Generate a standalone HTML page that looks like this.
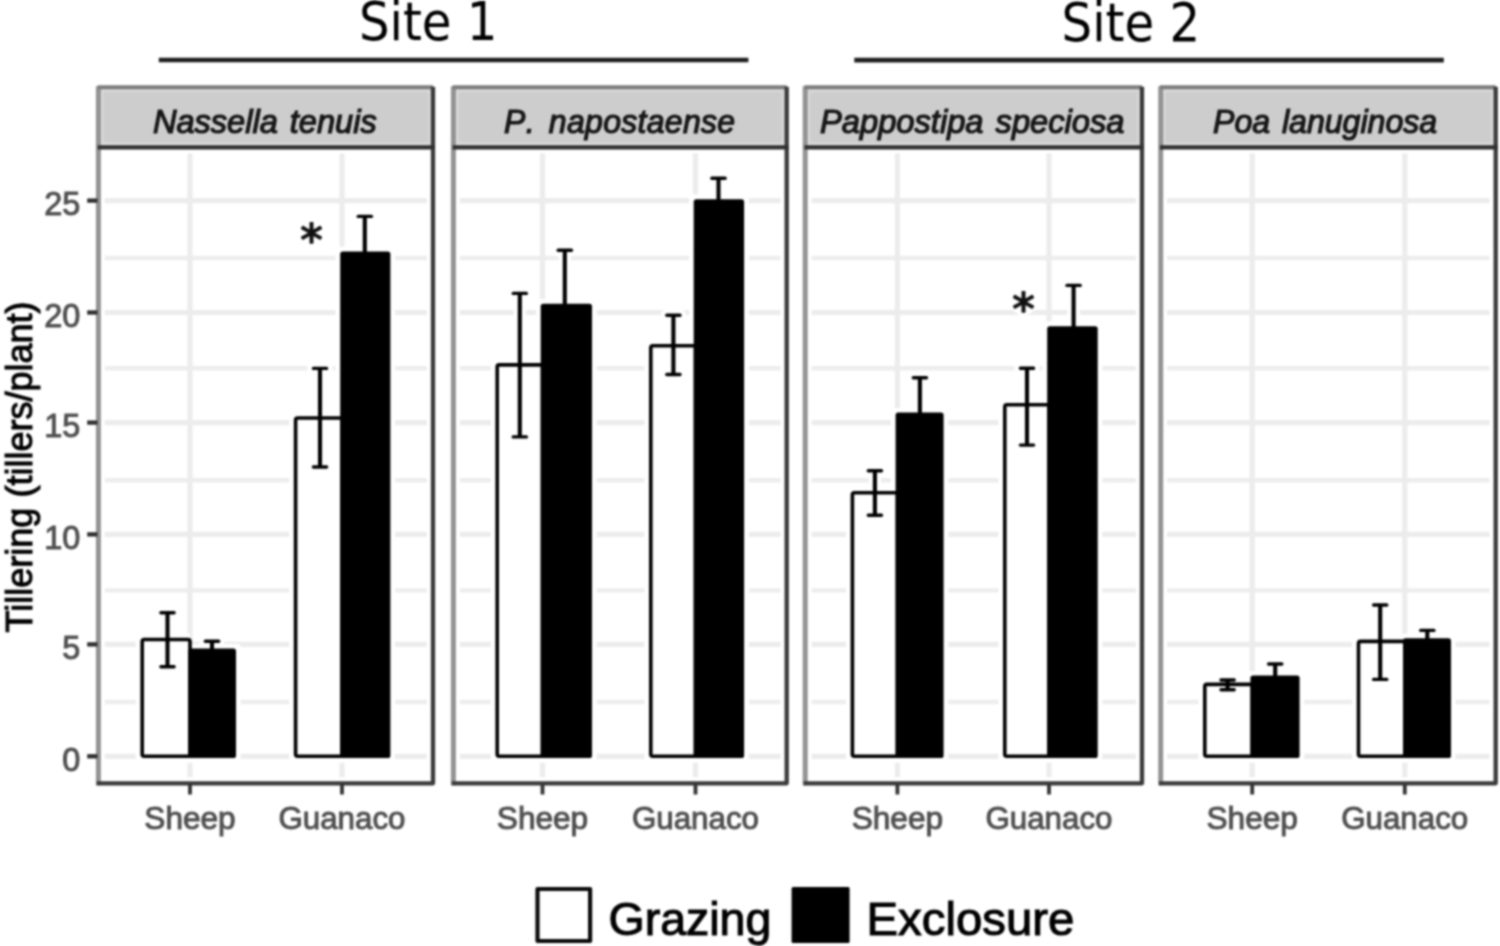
<!DOCTYPE html>
<html lang="en"><head><meta charset="utf-8"><title>Tillering by site</title>
<style>html,body{margin:0;padding:0;background:#fff}body{width:1500px;height:946px;overflow:hidden}svg{display:block}text{font-family:"Liberation Sans",sans-serif}.ax{fill:#4e4e4e;font-size:31px;stroke:#545454;stroke-width:1.0px}.st{fill:#1a1a1a;font-size:33px;font-style:italic;stroke:#111;stroke-width:1.2px;font-kerning:none}.lg{fill:#000;font-size:46.5px;stroke:#000;stroke-width:1.1px}.site{fill:#000;font-size:53.6px;font-family:"DejaVu Sans Condensed","DejaVu Sans","Liberation Sans",sans-serif;font-stretch:condensed}.star{font-family:"DejaVu Sans",sans-serif;font-size:45px;fill:#111;stroke:#111;stroke-width:1.5px;stroke-linejoin:round}</style></head><body>
<svg width="1500" height="946" viewBox="0 0 1500 946">
<defs><filter id="soft" x="0" y="0" width="1500" height="946" filterUnits="userSpaceOnUse" color-interpolation-filters="sRGB"><feConvolveMatrix order="5" kernelMatrix="1 4 7 4 1 4 16 26 16 4 7 26 41 26 7 4 16 26 16 4 1 4 7 4 1" divisor="273" edgeMode="duplicate" preserveAlpha="true"/></filter></defs>
<g filter="url(#soft)">
<rect x="-5" y="-5" width="1510" height="956" fill="#fff"/>
<text class="site" x="358.9" y="39.6">Site 1</text>
<text class="site" x="1061.6" y="40.6">Site 2</text>
<line x1="158.8" y1="60" x2="748.4" y2="60" stroke="#1e1e1e" stroke-width="4.6"/>
<line x1="854.3" y1="60.1" x2="1443.8" y2="60.1" stroke="#1e1e1e" stroke-width="4.6"/>
<rect x="98.7" y="147.3" width="334.3" height="636.0" fill="#fff"/>
<line x1="98.7" y1="258.0" x2="433.0" y2="258.0" stroke="#ededed" stroke-width="4.4"/>
<line x1="98.7" y1="368.3" x2="433.0" y2="368.3" stroke="#ededed" stroke-width="4.4"/>
<line x1="98.7" y1="480.3" x2="433.0" y2="480.3" stroke="#ededed" stroke-width="4.4"/>
<line x1="98.7" y1="590.4" x2="433.0" y2="590.4" stroke="#ededed" stroke-width="4.4"/>
<line x1="98.7" y1="702.0" x2="433.0" y2="702.0" stroke="#ededed" stroke-width="4.4"/>
<line x1="98.7" y1="200.6" x2="433.0" y2="200.6" stroke="#ececec" stroke-width="5.2"/>
<line x1="98.7" y1="312.5" x2="433.0" y2="312.5" stroke="#ececec" stroke-width="5.2"/>
<line x1="98.7" y1="422.6" x2="433.0" y2="422.6" stroke="#ececec" stroke-width="5.2"/>
<line x1="98.7" y1="534.4" x2="433.0" y2="534.4" stroke="#ececec" stroke-width="5.2"/>
<line x1="98.7" y1="644.4" x2="433.0" y2="644.4" stroke="#ececec" stroke-width="5.2"/>
<line x1="98.7" y1="756.3" x2="433.0" y2="756.3" stroke="#ececec" stroke-width="5.2"/>
<line x1="190.0" y1="147.3" x2="190.0" y2="783.3" stroke="#ececec" stroke-width="5.2"/>
<line x1="342.0" y1="147.3" x2="342.0" y2="783.3" stroke="#ececec" stroke-width="5.2"/>
<rect x="98.7" y="147.3" width="334.3" height="636.0" fill="none" stroke="#fff" stroke-width="12.2"/>
<rect x="135.8" y="633.1" width="54.2" height="129.6" fill="#fff" rx="3"/>
<rect x="183.6" y="643.9" width="57.0" height="118.8" fill="#fff" rx="3"/>
<path d="M160.9 612.8H174.1M160.9 666.8H174.1M167.5 612.8V666.8" stroke="#fff" stroke-width="12.3" fill="none" stroke-linecap="round"/>
<path d="M205.4 641.2H218.6M212.0 641.2V651.5" stroke="#fff" stroke-width="12.3" fill="none" stroke-linecap="round"/>
<rect x="289.2" y="411.6" width="52.8" height="351.1" fill="#fff" rx="3"/>
<rect x="335.6" y="246.8" width="59.4" height="515.9" fill="#fff" rx="3"/>
<path d="M313.4 368.4H326.6M313.4 467.0H326.6M320.0 368.4V467.0" stroke="#fff" stroke-width="12.3" fill="none" stroke-linecap="round"/>
<path d="M358.2 216.4H371.40000000000003M364.8 216.4V254.4" stroke="#fff" stroke-width="12.3" fill="none" stroke-linecap="round"/>
<rect x="142.2" y="639.5" width="47.8" height="116.8" fill="#fff" stroke="#000" stroke-width="3.6" stroke-linejoin="round" rx="2"/>
<rect x="188.2" y="648.5" width="47.8" height="109.6" fill="#000" rx="2.6"/>
<path d="M160.9 612.8H174.1M160.9 666.8H174.1" stroke="#000" stroke-width="3.4" fill="none" stroke-linecap="round"/>
<path d="M167.5 612.8V666.8" stroke="#000" stroke-width="4.1" fill="none"/>
<path d="M205.4 641.2H218.6" stroke="#000" stroke-width="3.4" fill="none" stroke-linecap="round"/>
<path d="M212.0 641.2V651.5" stroke="#000" stroke-width="4.1" fill="none"/>
<rect x="295.6" y="418.0" width="46.4" height="338.3" fill="#fff" stroke="#000" stroke-width="3.6" stroke-linejoin="round" rx="2"/>
<rect x="340.2" y="251.4" width="50.2" height="506.7" fill="#000" rx="2.6"/>
<path d="M313.4 368.4H326.6M313.4 467.0H326.6" stroke="#000" stroke-width="3.4" fill="none" stroke-linecap="round"/>
<path d="M320.0 368.4V467.0" stroke="#000" stroke-width="4.1" fill="none"/>
<path d="M358.2 216.4H371.40000000000003" stroke="#000" stroke-width="3.4" fill="none" stroke-linecap="round"/>
<path d="M364.8 216.4V254.4" stroke="#000" stroke-width="4.1" fill="none"/>
<rect x="98.7" y="87.3" width="334.3" height="60.0" fill="#cdcdcd"/>
<rect x="102.10000000000001" y="90.7" width="327.5" height="53.2" fill="none" stroke="#dbdbdb" stroke-width="2.2"/>
<line x1="98.4" y1="86.3" x2="98.4" y2="785.3" stroke="#939393" stroke-width="5"/>
<line x1="97.7" y1="87.3" x2="433.0" y2="87.3" stroke="#7c7c7c" stroke-width="4"/>
<path d="M433.0 86.8V783.3H96.7" fill="none" stroke="#3a3a3a" stroke-width="4.3" stroke-linejoin="round"/>
<line x1="97.7" y1="147.3" x2="435.0" y2="147.3" stroke="#303030" stroke-width="4.2"/>
<text class="st" style="word-spacing:3px" x="152.9" y="132.8" textLength="223.8" lengthAdjust="spacingAndGlyphs">Nassella tenuis</text>
<line x1="190.0" y1="784.3" x2="190.0" y2="794.5" stroke="#333" stroke-width="3.8"/>
<text class="ax" x="144.3" y="828.6" textLength="91.4" lengthAdjust="spacingAndGlyphs">Sheep</text>
<line x1="342.0" y1="784.3" x2="342.0" y2="794.5" stroke="#333" stroke-width="3.8"/>
<text class="ax" x="278.4" y="828.6" textLength="127.1" lengthAdjust="spacingAndGlyphs">Guanaco</text>
<rect x="453.7" y="147.3" width="333.0" height="636.0" fill="#fff"/>
<line x1="453.7" y1="258.0" x2="786.7" y2="258.0" stroke="#ededed" stroke-width="4.4"/>
<line x1="453.7" y1="368.3" x2="786.7" y2="368.3" stroke="#ededed" stroke-width="4.4"/>
<line x1="453.7" y1="480.3" x2="786.7" y2="480.3" stroke="#ededed" stroke-width="4.4"/>
<line x1="453.7" y1="590.4" x2="786.7" y2="590.4" stroke="#ededed" stroke-width="4.4"/>
<line x1="453.7" y1="702.0" x2="786.7" y2="702.0" stroke="#ededed" stroke-width="4.4"/>
<line x1="453.7" y1="200.6" x2="786.7" y2="200.6" stroke="#ececec" stroke-width="5.2"/>
<line x1="453.7" y1="312.5" x2="786.7" y2="312.5" stroke="#ececec" stroke-width="5.2"/>
<line x1="453.7" y1="422.6" x2="786.7" y2="422.6" stroke="#ececec" stroke-width="5.2"/>
<line x1="453.7" y1="534.4" x2="786.7" y2="534.4" stroke="#ececec" stroke-width="5.2"/>
<line x1="453.7" y1="644.4" x2="786.7" y2="644.4" stroke="#ececec" stroke-width="5.2"/>
<line x1="453.7" y1="756.3" x2="786.7" y2="756.3" stroke="#ececec" stroke-width="5.2"/>
<line x1="542.5" y1="147.3" x2="542.5" y2="783.3" stroke="#ececec" stroke-width="5.2"/>
<line x1="695.5" y1="147.3" x2="695.5" y2="783.3" stroke="#ececec" stroke-width="5.2"/>
<rect x="453.7" y="147.3" width="333.0" height="636.0" fill="none" stroke="#fff" stroke-width="12.2"/>
<rect x="490.8" y="358.5" width="51.7" height="404.2" fill="#fff" rx="3"/>
<rect x="536.1" y="299.1" width="60.5" height="463.6" fill="#fff" rx="3"/>
<path d="M513.1999999999999 293.4H526.4M513.1999999999999 436.9H526.4M519.8 293.4V436.9" stroke="#fff" stroke-width="12.3" fill="none" stroke-linecap="round"/>
<path d="M558.1999999999999 250.3H571.4M564.8 250.3V306.7" stroke="#fff" stroke-width="12.3" fill="none" stroke-linecap="round"/>
<rect x="644.4" y="339.3" width="51.1" height="423.4" fill="#fff" rx="3"/>
<rect x="689.1" y="194.6" width="59.6" height="568.1" fill="#fff" rx="3"/>
<path d="M666.8 315.3H680.0M666.8 374.5H680.0M673.4 315.3V374.5" stroke="#fff" stroke-width="12.3" fill="none" stroke-linecap="round"/>
<path d="M711.9 178.2H725.1M718.5 178.2V202.2" stroke="#fff" stroke-width="12.3" fill="none" stroke-linecap="round"/>
<rect x="497.2" y="364.9" width="45.3" height="391.4" fill="#fff" stroke="#000" stroke-width="3.6" stroke-linejoin="round" rx="2"/>
<rect x="540.7" y="303.7" width="51.3" height="454.4" fill="#000" rx="2.6"/>
<path d="M513.1999999999999 293.4H526.4M513.1999999999999 436.9H526.4" stroke="#000" stroke-width="3.4" fill="none" stroke-linecap="round"/>
<path d="M519.8 293.4V436.9" stroke="#000" stroke-width="4.1" fill="none"/>
<path d="M558.1999999999999 250.3H571.4" stroke="#000" stroke-width="3.4" fill="none" stroke-linecap="round"/>
<path d="M564.8 250.3V306.7" stroke="#000" stroke-width="4.1" fill="none"/>
<rect x="650.8" y="345.7" width="44.7" height="410.6" fill="#fff" stroke="#000" stroke-width="3.6" stroke-linejoin="round" rx="2"/>
<rect x="693.7" y="199.2" width="50.4" height="558.9" fill="#000" rx="2.6"/>
<path d="M666.8 315.3H680.0M666.8 374.5H680.0" stroke="#000" stroke-width="3.4" fill="none" stroke-linecap="round"/>
<path d="M673.4 315.3V374.5" stroke="#000" stroke-width="4.1" fill="none"/>
<path d="M711.9 178.2H725.1" stroke="#000" stroke-width="3.4" fill="none" stroke-linecap="round"/>
<path d="M718.5 178.2V202.2" stroke="#000" stroke-width="4.1" fill="none"/>
<rect x="453.7" y="87.3" width="333.0" height="60.0" fill="#cdcdcd"/>
<rect x="457.09999999999997" y="90.7" width="326.2" height="53.2" fill="none" stroke="#dbdbdb" stroke-width="2.2"/>
<line x1="453.4" y1="86.3" x2="453.4" y2="785.3" stroke="#939393" stroke-width="5"/>
<line x1="452.7" y1="87.3" x2="786.7" y2="87.3" stroke="#7c7c7c" stroke-width="4"/>
<path d="M786.7 86.8V783.3H451.7" fill="none" stroke="#3a3a3a" stroke-width="4.3" stroke-linejoin="round"/>
<line x1="452.7" y1="147.3" x2="788.7" y2="147.3" stroke="#303030" stroke-width="4.2"/>
<text class="st" style="word-spacing:5px;letter-spacing:0.3px" x="504.0" y="132.8" textLength="231.4" lengthAdjust="spacingAndGlyphs">P. napostaense</text>
<line x1="542.5" y1="784.3" x2="542.5" y2="794.5" stroke="#333" stroke-width="3.8"/>
<text class="ax" x="496.8" y="828.6" textLength="91.4" lengthAdjust="spacingAndGlyphs">Sheep</text>
<line x1="695.5" y1="784.3" x2="695.5" y2="794.5" stroke="#333" stroke-width="3.8"/>
<text class="ax" x="631.9" y="828.6" textLength="127.1" lengthAdjust="spacingAndGlyphs">Guanaco</text>
<rect x="805.5" y="147.3" width="336.5" height="636.0" fill="#fff"/>
<line x1="805.5" y1="258.0" x2="1142.0" y2="258.0" stroke="#ededed" stroke-width="4.4"/>
<line x1="805.5" y1="368.3" x2="1142.0" y2="368.3" stroke="#ededed" stroke-width="4.4"/>
<line x1="805.5" y1="480.3" x2="1142.0" y2="480.3" stroke="#ededed" stroke-width="4.4"/>
<line x1="805.5" y1="590.4" x2="1142.0" y2="590.4" stroke="#ededed" stroke-width="4.4"/>
<line x1="805.5" y1="702.0" x2="1142.0" y2="702.0" stroke="#ededed" stroke-width="4.4"/>
<line x1="805.5" y1="200.6" x2="1142.0" y2="200.6" stroke="#ececec" stroke-width="5.2"/>
<line x1="805.5" y1="312.5" x2="1142.0" y2="312.5" stroke="#ececec" stroke-width="5.2"/>
<line x1="805.5" y1="422.6" x2="1142.0" y2="422.6" stroke="#ececec" stroke-width="5.2"/>
<line x1="805.5" y1="534.4" x2="1142.0" y2="534.4" stroke="#ececec" stroke-width="5.2"/>
<line x1="805.5" y1="644.4" x2="1142.0" y2="644.4" stroke="#ececec" stroke-width="5.2"/>
<line x1="805.5" y1="756.3" x2="1142.0" y2="756.3" stroke="#ececec" stroke-width="5.2"/>
<line x1="897.4" y1="147.3" x2="897.4" y2="783.3" stroke="#ececec" stroke-width="5.2"/>
<line x1="1049.0" y1="147.3" x2="1049.0" y2="783.3" stroke="#ececec" stroke-width="5.2"/>
<rect x="805.5" y="147.3" width="336.5" height="636.0" fill="none" stroke="#fff" stroke-width="12.2"/>
<rect x="846.0" y="486.4" width="51.4" height="276.3" fill="#fff" rx="3"/>
<rect x="891.0" y="408.0" width="57.2" height="354.7" fill="#fff" rx="3"/>
<path d="M868.3 470.7H881.5M868.3 515.2H881.5M874.9 470.7V515.2" stroke="#fff" stroke-width="12.3" fill="none" stroke-linecap="round"/>
<path d="M913.3 377.8H926.5M919.9 377.8V415.6" stroke="#fff" stroke-width="12.3" fill="none" stroke-linecap="round"/>
<rect x="998.4" y="398.3" width="50.6" height="364.4" fill="#fff" rx="3"/>
<rect x="1042.6" y="321.6" width="59.7" height="441.1" fill="#fff" rx="3"/>
<path d="M1020.4 368.2H1033.6M1020.4 445.1H1033.6M1027.0 368.2V445.1" stroke="#fff" stroke-width="12.3" fill="none" stroke-linecap="round"/>
<path d="M1067.0 285.4H1080.1999999999998M1073.6 285.4V329.2" stroke="#fff" stroke-width="12.3" fill="none" stroke-linecap="round"/>
<rect x="852.4" y="492.8" width="45.0" height="263.5" fill="#fff" stroke="#000" stroke-width="3.6" stroke-linejoin="round" rx="2"/>
<rect x="895.6" y="412.6" width="48.0" height="345.5" fill="#000" rx="2.6"/>
<path d="M868.3 470.7H881.5M868.3 515.2H881.5" stroke="#000" stroke-width="3.4" fill="none" stroke-linecap="round"/>
<path d="M874.9 470.7V515.2" stroke="#000" stroke-width="4.1" fill="none"/>
<path d="M913.3 377.8H926.5" stroke="#000" stroke-width="3.4" fill="none" stroke-linecap="round"/>
<path d="M919.9 377.8V415.6" stroke="#000" stroke-width="4.1" fill="none"/>
<rect x="1004.8" y="404.7" width="44.2" height="351.6" fill="#fff" stroke="#000" stroke-width="3.6" stroke-linejoin="round" rx="2"/>
<rect x="1047.2" y="326.2" width="50.5" height="431.9" fill="#000" rx="2.6"/>
<path d="M1020.4 368.2H1033.6M1020.4 445.1H1033.6" stroke="#000" stroke-width="3.4" fill="none" stroke-linecap="round"/>
<path d="M1027.0 368.2V445.1" stroke="#000" stroke-width="4.1" fill="none"/>
<path d="M1067.0 285.4H1080.1999999999998" stroke="#000" stroke-width="3.4" fill="none" stroke-linecap="round"/>
<path d="M1073.6 285.4V329.2" stroke="#000" stroke-width="4.1" fill="none"/>
<rect x="805.5" y="87.3" width="336.5" height="60.0" fill="#cdcdcd"/>
<rect x="808.9" y="90.7" width="329.7" height="53.2" fill="none" stroke="#dbdbdb" stroke-width="2.2"/>
<line x1="805.2" y1="86.3" x2="805.2" y2="785.3" stroke="#939393" stroke-width="5"/>
<line x1="804.5" y1="87.3" x2="1142.0" y2="87.3" stroke="#7c7c7c" stroke-width="4"/>
<path d="M1142.0 86.8V783.3H803.5" fill="none" stroke="#3a3a3a" stroke-width="4.3" stroke-linejoin="round"/>
<line x1="804.5" y1="147.3" x2="1144.0" y2="147.3" stroke="#303030" stroke-width="4.2"/>
<text class="st" style="word-spacing:3px" x="820.0" y="132.8" textLength="304.5" lengthAdjust="spacingAndGlyphs">Pappostipa speciosa</text>
<line x1="897.4" y1="784.3" x2="897.4" y2="794.5" stroke="#333" stroke-width="3.8"/>
<text class="ax" x="851.7" y="828.6" textLength="91.4" lengthAdjust="spacingAndGlyphs">Sheep</text>
<line x1="1049.0" y1="784.3" x2="1049.0" y2="794.5" stroke="#333" stroke-width="3.8"/>
<text class="ax" x="985.4" y="828.6" textLength="127.1" lengthAdjust="spacingAndGlyphs">Guanaco</text>
<rect x="1161.0" y="147.3" width="334.7" height="636.0" fill="#fff"/>
<line x1="1161.0" y1="258.0" x2="1495.7" y2="258.0" stroke="#ededed" stroke-width="4.4"/>
<line x1="1161.0" y1="368.3" x2="1495.7" y2="368.3" stroke="#ededed" stroke-width="4.4"/>
<line x1="1161.0" y1="480.3" x2="1495.7" y2="480.3" stroke="#ededed" stroke-width="4.4"/>
<line x1="1161.0" y1="590.4" x2="1495.7" y2="590.4" stroke="#ededed" stroke-width="4.4"/>
<line x1="1161.0" y1="702.0" x2="1495.7" y2="702.0" stroke="#ededed" stroke-width="4.4"/>
<line x1="1161.0" y1="200.6" x2="1495.7" y2="200.6" stroke="#ececec" stroke-width="5.2"/>
<line x1="1161.0" y1="312.5" x2="1495.7" y2="312.5" stroke="#ececec" stroke-width="5.2"/>
<line x1="1161.0" y1="422.6" x2="1495.7" y2="422.6" stroke="#ececec" stroke-width="5.2"/>
<line x1="1161.0" y1="534.4" x2="1495.7" y2="534.4" stroke="#ececec" stroke-width="5.2"/>
<line x1="1161.0" y1="644.4" x2="1495.7" y2="644.4" stroke="#ececec" stroke-width="5.2"/>
<line x1="1161.0" y1="756.3" x2="1495.7" y2="756.3" stroke="#ececec" stroke-width="5.2"/>
<line x1="1252.2" y1="147.3" x2="1252.2" y2="783.3" stroke="#ececec" stroke-width="5.2"/>
<line x1="1404.8" y1="147.3" x2="1404.8" y2="783.3" stroke="#ececec" stroke-width="5.2"/>
<rect x="1161.0" y="147.3" width="334.7" height="636.0" fill="none" stroke="#fff" stroke-width="12.2"/>
<rect x="1198.4" y="678.0" width="53.8" height="84.7" fill="#fff" rx="3"/>
<rect x="1245.8" y="671.0" width="58.4" height="91.7" fill="#fff" rx="3"/>
<path d="M1221.0 680.0H1234.1999999999998M1221.0 689.8H1234.1999999999998M1227.6 680.0V689.8" stroke="#fff" stroke-width="12.3" fill="none" stroke-linecap="round"/>
<path d="M1268.6000000000001 664.0H1281.8M1275.2 664.0V678.6" stroke="#fff" stroke-width="12.3" fill="none" stroke-linecap="round"/>
<rect x="1352.1" y="635.0" width="52.7" height="127.7" fill="#fff" rx="3"/>
<rect x="1398.4" y="633.7" width="57.2" height="129.0" fill="#fff" rx="3"/>
<path d="M1373.6000000000001 605.0H1386.8M1373.6000000000001 679.4H1386.8M1380.2 605.0V679.4" stroke="#fff" stroke-width="12.3" fill="none" stroke-linecap="round"/>
<path d="M1420.7 630.4H1433.8999999999999M1427.3 630.4V641.3" stroke="#fff" stroke-width="12.3" fill="none" stroke-linecap="round"/>
<rect x="1204.8" y="684.4" width="47.4" height="71.9" fill="#fff" stroke="#000" stroke-width="3.6" stroke-linejoin="round" rx="2"/>
<rect x="1250.4" y="675.6" width="49.2" height="82.5" fill="#000" rx="2.6"/>
<path d="M1221.0 680.0H1234.1999999999998M1221.0 689.8H1234.1999999999998" stroke="#000" stroke-width="3.4" fill="none" stroke-linecap="round"/>
<path d="M1227.6 680.0V689.8" stroke="#000" stroke-width="4.1" fill="none"/>
<path d="M1268.6000000000001 664.0H1281.8" stroke="#000" stroke-width="3.4" fill="none" stroke-linecap="round"/>
<path d="M1275.2 664.0V678.6" stroke="#000" stroke-width="4.1" fill="none"/>
<rect x="1358.5" y="641.4" width="46.3" height="114.9" fill="#fff" stroke="#000" stroke-width="3.6" stroke-linejoin="round" rx="2"/>
<rect x="1403.0" y="638.3" width="48.0" height="119.8" fill="#000" rx="2.6"/>
<path d="M1373.6000000000001 605.0H1386.8M1373.6000000000001 679.4H1386.8" stroke="#000" stroke-width="3.4" fill="none" stroke-linecap="round"/>
<path d="M1380.2 605.0V679.4" stroke="#000" stroke-width="4.1" fill="none"/>
<path d="M1420.7 630.4H1433.8999999999999" stroke="#000" stroke-width="3.4" fill="none" stroke-linecap="round"/>
<path d="M1427.3 630.4V641.3" stroke="#000" stroke-width="4.1" fill="none"/>
<rect x="1161.0" y="87.3" width="334.7" height="60.0" fill="#cdcdcd"/>
<rect x="1164.4" y="90.7" width="327.9" height="53.2" fill="none" stroke="#dbdbdb" stroke-width="2.2"/>
<line x1="1160.7" y1="86.3" x2="1160.7" y2="785.3" stroke="#939393" stroke-width="5"/>
<line x1="1160.0" y1="87.3" x2="1495.7" y2="87.3" stroke="#7c7c7c" stroke-width="4"/>
<path d="M1495.7 86.8V783.3H1159.0" fill="none" stroke="#3a3a3a" stroke-width="4.3" stroke-linejoin="round"/>
<line x1="1160.0" y1="147.3" x2="1497.7" y2="147.3" stroke="#303030" stroke-width="4.2"/>
<text class="st" style="word-spacing:3px" x="1213.0" y="132.8" textLength="224.2" lengthAdjust="spacingAndGlyphs">Poa lanuginosa</text>
<line x1="1252.2" y1="784.3" x2="1252.2" y2="794.5" stroke="#333" stroke-width="3.8"/>
<text class="ax" x="1206.5" y="828.6" textLength="91.4" lengthAdjust="spacingAndGlyphs">Sheep</text>
<line x1="1404.8" y1="784.3" x2="1404.8" y2="794.5" stroke="#333" stroke-width="3.8"/>
<text class="ax" x="1341.2" y="828.6" textLength="127.1" lengthAdjust="spacingAndGlyphs">Guanaco</text>
<line x1="87.2" y1="200.6" x2="97.5" y2="200.6" stroke="#2e2e2e" stroke-width="4.3"/>
<text class="ax" style="font-size:32.5px" x="80.4" y="215.1" text-anchor="end">25</text>
<line x1="87.2" y1="312.5" x2="97.5" y2="312.5" stroke="#2e2e2e" stroke-width="4.3"/>
<text class="ax" style="font-size:32.5px" x="80.4" y="327.0" text-anchor="end">20</text>
<line x1="87.2" y1="422.6" x2="97.5" y2="422.6" stroke="#2e2e2e" stroke-width="4.3"/>
<text class="ax" style="font-size:32.5px" x="80.4" y="437.1" text-anchor="end">15</text>
<line x1="87.2" y1="534.4" x2="97.5" y2="534.4" stroke="#2e2e2e" stroke-width="4.3"/>
<text class="ax" style="font-size:32.5px" x="80.4" y="548.9" text-anchor="end">10</text>
<line x1="87.2" y1="644.4" x2="97.5" y2="644.4" stroke="#2e2e2e" stroke-width="4.3"/>
<text class="ax" style="font-size:32.5px" x="80.4" y="658.9" text-anchor="end">5</text>
<line x1="87.2" y1="756.3" x2="97.5" y2="756.3" stroke="#2e2e2e" stroke-width="4.3"/>
<text class="ax" style="font-size:32.5px" x="80.4" y="770.8" text-anchor="end">0</text>
<text transform="translate(31.6,632.4) rotate(-90)" font-size="36" fill="#000" stroke="#000" stroke-width="1.0" textLength="331" lengthAdjust="spacingAndGlyphs">Tillering (tillers/plant)</text>
<circle cx="311.4" cy="233.1" r="13.5" fill="#fff"/>
<text class="star" x="311.4" y="256.1" text-anchor="middle">*</text>
<circle cx="1023.5" cy="301.6" r="13.5" fill="#fff"/>
<text class="star" x="1023.5" y="324.6" text-anchor="middle">*</text>
<rect x="537.5" y="889" width="52.6" height="52" fill="#fff" stroke="#0a0a0a" stroke-width="4.2" stroke-linejoin="round"/>
<text class="lg" x="608.5" y="935">Grazing</text>
<rect x="791.6" y="887" width="58" height="56" fill="#000" rx="1.5"/>
<text class="lg" x="866.5" y="935" textLength="207.8" lengthAdjust="spacingAndGlyphs">Exclosure</text>
</g></svg></body></html>
